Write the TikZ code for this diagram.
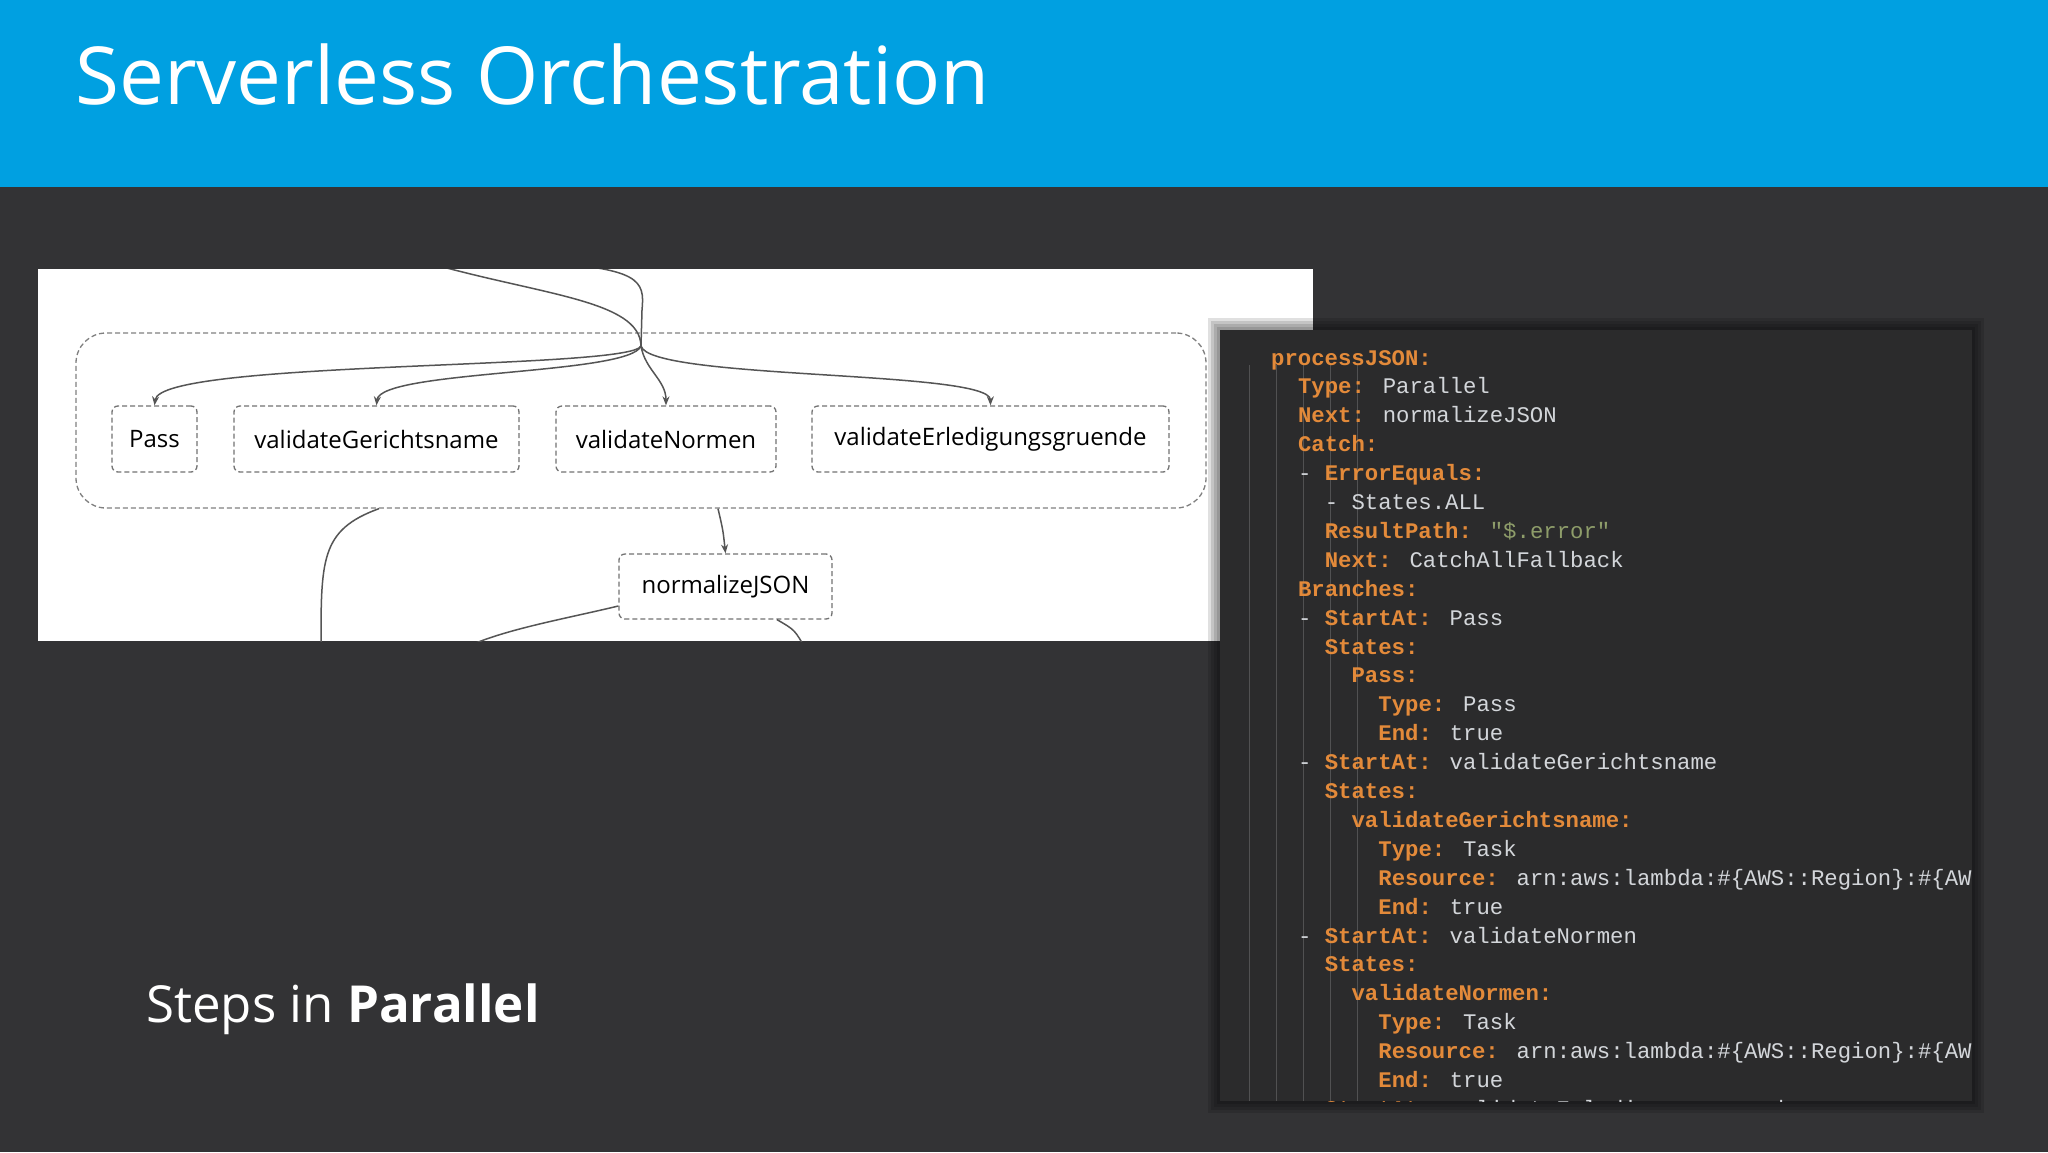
\documentclass[tikz,border=0pt]{standalone}
\usepackage{fontspec}
\setmainfont{Open Sans}
\newfontfamily\codefont{Liberation Mono}
\usetikzlibrary{arrows.meta}
\definecolor{hdr}{HTML}{00A0E1}
\definecolor{bg}{HTML}{333335}
\definecolor{codebg}{HTML}{2B2B2C}
\definecolor{kcol}{HTML}{E38A3A}
\definecolor{vcol}{HTML}{D3D6DA}
\definecolor{gcol}{HTML}{8E9D6A}
\definecolor{edge}{HTML}{555555}
\newcommand{\Kc}[1]{{\bfseries\color{kcol}#1}}
\newcommand{\Gc}[1]{{\color{gcol}#1}}
\tikzset{
  x=1pt,y=-1pt,
  state/.style={draw=black!55,line width=1.3pt,dash pattern=on 5pt off 3pt,rounded corners=6pt,fill=white,inner sep=0pt,font=\fontsize{24}{24}\selectfont,text=black},
  grp/.style={draw=black!50,line width=1.3pt,dash pattern=on 5pt off 3pt,rounded corners=30pt},
  conn/.style={draw=edge,line width=1.5pt},
  arr/.style={conn,-{Stealth[length=9pt,width=7pt]}},
  codeln/.style={anchor=base west,inner sep=0pt,font=\codefont\fontsize{22.3}{22.3}\selectfont,text=vcol},
}
\begin{document}
\begin{tikzpicture}
\useasboundingbox (0,0) rectangle (2048,1152);
\fill[bg] (0,0) rectangle (2048,1152);
\fill[hdr] (0,0) rectangle (2048,187);
\node[anchor=base west,inner sep=0pt,text=white,font=\fontsize{80}{80}\selectfont] (title) at (75,104) {Serverless Orchestration};

% diagram panel
\begin{scope}
\clip (38,269) rectangle (1313,641);
\fill[white] (38,269) rectangle (1313,641);
\node[grp,minimum width=1130pt,minimum height=175pt] (group) at (641,420.5) {};
\node[state,minimum width=85pt,minimum height=66pt] (pass) at (154.5,439) {Pass};
\node[state,minimum width=285pt,minimum height=66pt] (vg) at (376.5,439) {validateGerichtsname};
\node[state,minimum width=220pt,minimum height=66pt] (vn) at (666,439) {validateNormen};
\node[state,minimum width=357pt,minimum height=66pt] (ve) at (990.5,439) {validateErledigungsgruende};
\node[state,minimum width=213pt,minimum height=65pt] (nj) at (725.5,586.5) {normalizeJSON};
\coordinate (m) at (641,346);
\coordinate (t1) at (425,262);
\coordinate (t2) at (535,262);
\draw[conn] (t2) .. controls (640,268) and (645,280) .. (642,310) -- (m);
\draw[conn] (t1) .. controls (540,295) and (640,300) .. (m);
\draw[arr] (m) .. controls (630,370) and (160,360) .. (pass.north);
\draw[arr] (m) .. controls (630,375) and (380,370) .. (vg.north);
\draw[arr] (m) .. controls (645,370) and (666,380) .. (vn.north);
\draw[arr] (m) .. controls (650,380) and (990,370) .. (ve.north);
\draw[arr] (group.south -| 718,0) .. controls (723,530) .. (nj.north);
\draw[conn] (group.south -| 379,0) .. controls (320,530) and (321,560) .. (321,650);
\draw[conn] (nj.west |- 0,606) .. controls (560,620) and (500,630) .. (460,650);
\draw[conn] (nj.south -| 777,0) .. controls (795,630) .. (806,650);
\end{scope}

\node[anchor=base west,inner sep=0pt,text=white,font=\fontsize{51}{51}\selectfont] (steps) at (146,1022) {Steps in \textbf{Parallel}};

% code panel
\foreach \s in {12,9,6,3}
  \fill[black,opacity=0.12] (1220-\s,330-\s) rectangle (1972+\s,1101+\s);
\fill[codebg] (1220,330) rectangle (1972,1101);
\begin{scope}
\clip (1220,330) rectangle (1972,1101);
\foreach \gx in {1249,1276,1303,1330,1357}
  \draw[white!18!codebg,line width=1pt] (\gx,365) -- (\gx,1101);
\def\cx{1271}\def\cw{13.4}\def\cy{365}\def\ch{28.9}
\foreach \i/\ind/\txt in {
 0/0/{\Kc{processJSON:}},
 1/2/{\Kc{Type:} Parallel},
 2/2/{\Kc{Next:} normalizeJSON},
 3/2/{\Kc{Catch:}},
 4/2/{- \Kc{ErrorEquals:}},
 5/4/{- States.ALL},
 6/4/{\Kc{ResultPath:} \Gc{"\$.error"}},
 7/4/{\Kc{Next:} CatchAllFallback},
 8/2/{\Kc{Branches:}},
 9/2/{- \Kc{StartAt:} Pass},
 10/4/{\Kc{States:}},
 11/6/{\Kc{Pass:}},
 12/8/{\Kc{Type:} Pass},
 13/8/{\Kc{End:} true},
 14/2/{- \Kc{StartAt:} validateGerichtsname},
 15/4/{\Kc{States:}},
 16/6/{\Kc{validateGerichtsname:}},
 17/8/{\Kc{Type:} Task},
 18/8/{\Kc{Resource:} arn:aws:lambda:\#\{AWS::Region\}:\#\{AW},
 19/8/{\Kc{End:} true},
 20/2/{- \Kc{StartAt:} validateNormen},
 21/4/{\Kc{States:}},
 22/6/{\Kc{validateNormen:}},
 23/8/{\Kc{Type:} Task},
 24/8/{\Kc{Resource:} arn:aws:lambda:\#\{AWS::Region\}:\#\{AW},
 25/8/{\Kc{End:} true},
 26/2/{- \Kc{StartAt:} validateErledigungsgruende}}
  \node[codeln] (code\i) at ({\cx+\ind*\cw},{\cy+\i*\ch}) {\txt};
\end{scope}
\end{tikzpicture}
\end{document}
